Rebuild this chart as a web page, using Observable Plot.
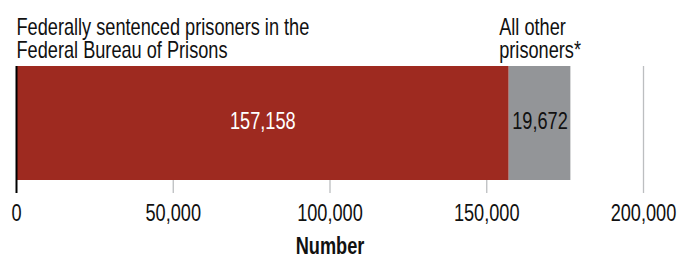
<!DOCTYPE html>
<html>
<head>
<meta charset="utf-8">
<script src="https://cdn.jsdelivr.net/npm/d3@7"></script>
<script src="https://cdn.jsdelivr.net/npm/@observablehq/plot@0.6"></script>
<style>
  html, body { margin: 0; padding: 0; background: #fff; }
  #chart { width: 678px; height: 258px; }
</style>
</head>
<body>
<div id="chart"></div>
<script>
const categories = ["Federally sentenced prisoners in the\nFederal Bureau of Prisons", "All other\nprisoners*"];
const values = [157158, 19672];
const colors = ["#9e2a20", "#939598"];
const labelColors = ["#ffffff", "#111111"];
const tickValues = [0, 50000, 100000, 150000, 200000];
const axisLabel = "Number";

const data = categories.map((c, i) => ({category: c, value: values[i], row: "all", idx: i}));
const starts = values.map((v, i) => d3.sum(values.slice(0, i)));
const fmt = d3.format(",");
const font = "'Liberation Sans', Arial, sans-serif";
const FS = 23;       // font size
const SX = 0.79;     // horizontal condensation to mimic a condensed face

const chart = Plot.plot({
  width: 678,
  height: 258,
  marginLeft: 16,
  marginRight: 35,
  marginTop: 66,
  marginBottom: 78,
  style: {fontFamily: font, fontSize: FS + "px", color: "#111", background: "#fff"},
  x: {domain: [0, 200000], ticks: tickValues, tickFormat: fmt, tickSize: 0, tickPadding: 24, label: null},
  y: {domain: ["all"], axis: null, padding: 0},
  color: {domain: categories, range: colors},
  marks: [
    Plot.ruleX(tickValues.slice(1), {stroke: "#bcbec0", strokeWidth: 1.3, insetBottom: -13}),
    Plot.barX(data, {x: "value", y: "row", fill: "category"}),
    Plot.ruleX([0], {stroke: "#000", strokeWidth: 2, insetBottom: -13}),
    Plot.text(data, Plot.stackX({x: "value", y: "row", text: d => fmt(d.value), fill: d => labelColors[d.idx], fontSize: FS, dy: -2})),
    Plot.text([categories[0]], {x: [starts[0]], frameAnchor: "top", text: d => d, textAnchor: "start", lineAnchor: "bottom", lineHeight: 0.96, dy: -9, fontSize: FS, fill: "#111"}),
    Plot.text([categories[1]], {x: [starts[1]], frameAnchor: "top", text: d => d, textAnchor: "start", lineAnchor: "bottom", lineHeight: 0.96, dy: -9, dx: -10, fontSize: FS, fill: "#111"}),
    Plot.text([axisLabel], {x: [100000], frameAnchor: "bottom", text: d => d, lineAnchor: "bottom", dy: 73, fontSize: FS, fontWeight: "bold", fill: "#111"})
  ]
});
document.getElementById("chart").appendChild(chart);

// condense every text horizontally around its own anchor point
chart.querySelectorAll("text").forEach(t => {
  const b = t.getBBox();
  const anchor = getComputedStyle(t).textAnchor;
  const ax = anchor === "middle" ? b.x + b.width / 2 : anchor === "end" ? b.x + b.width : b.x;
  const tr = t.getAttribute("transform") || "";
  t.setAttribute("transform", `${tr} translate(${ax},0) scale(${SX},1) translate(${-ax},0)`);
});
</script>
</body>
</html>
